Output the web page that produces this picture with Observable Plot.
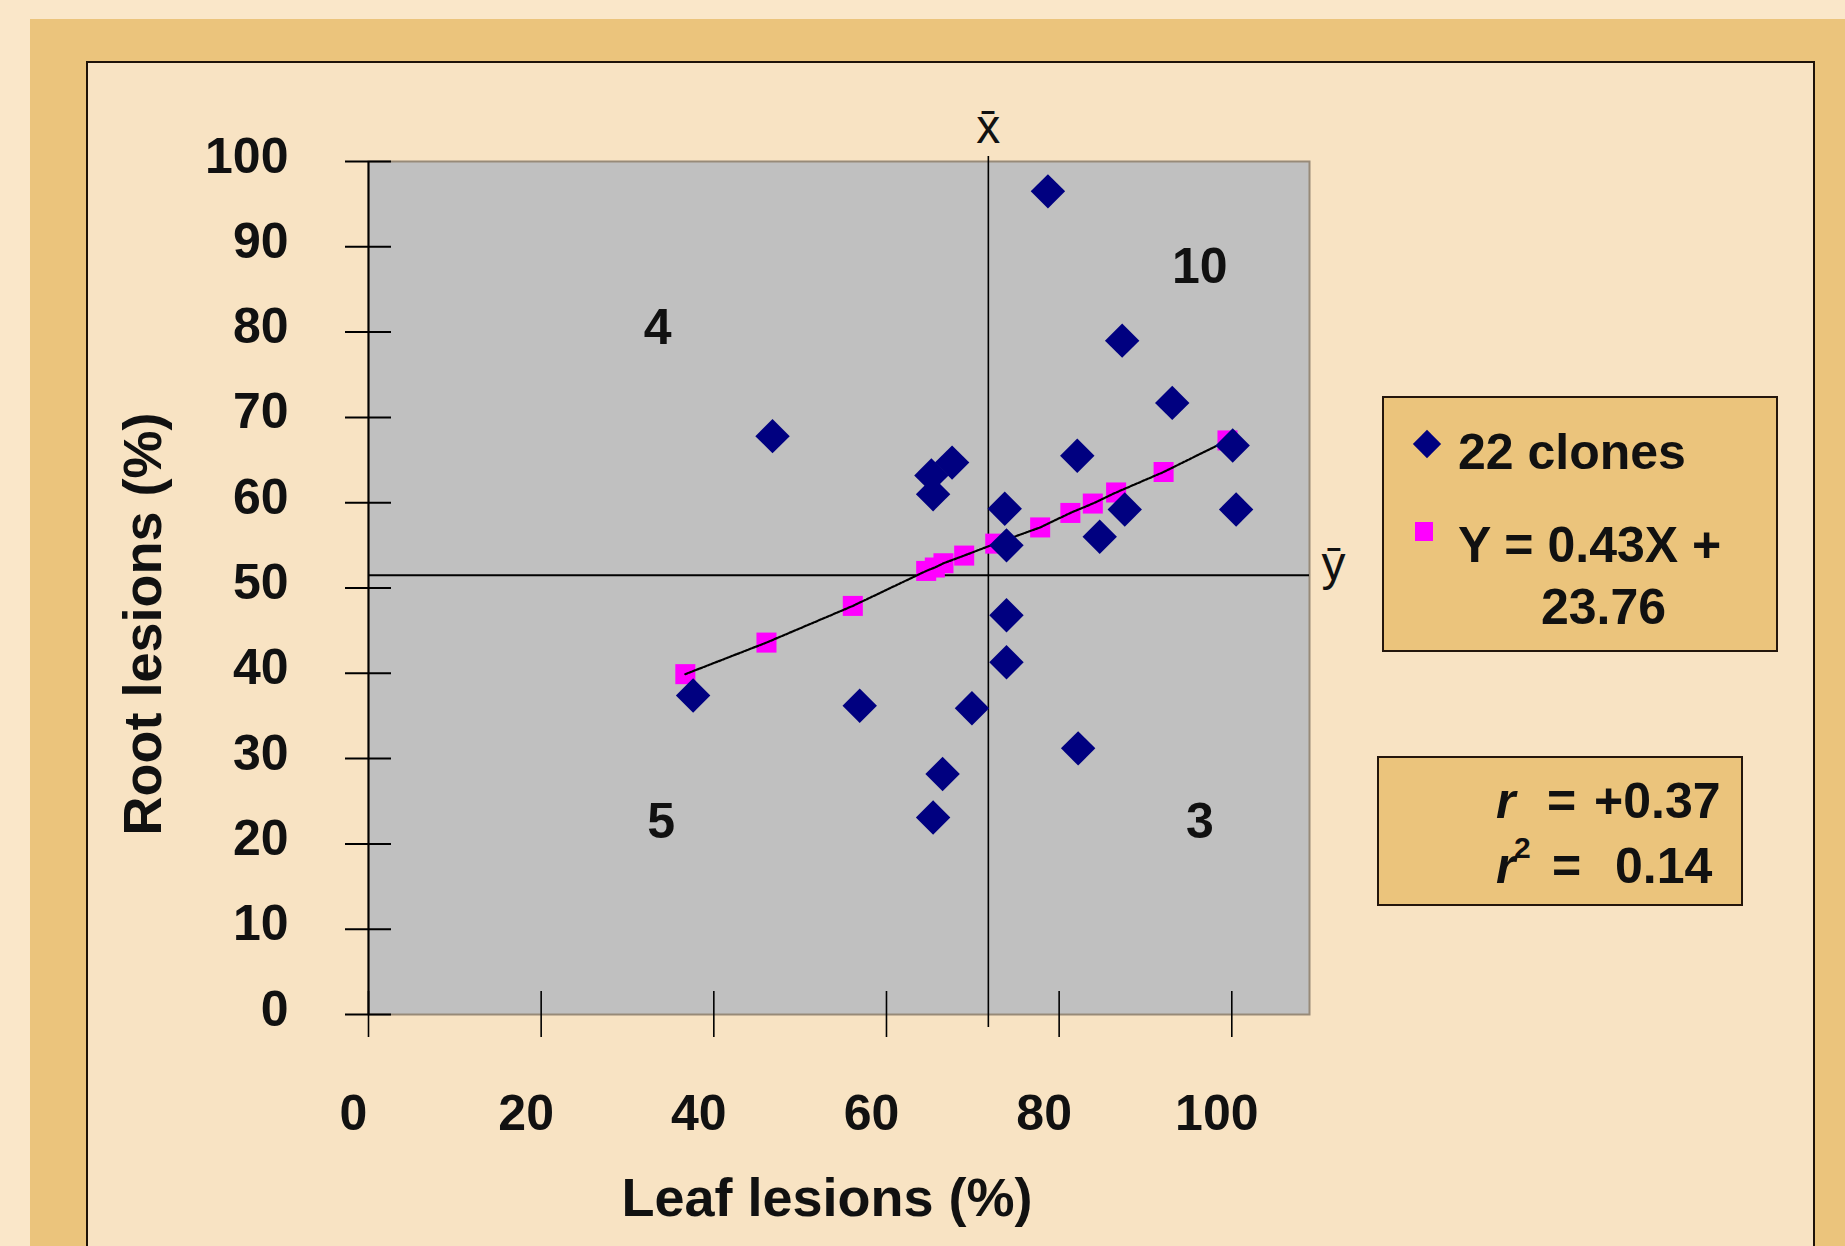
<!DOCTYPE html>
<html><head><meta charset="utf-8">
<script src="https://cdn.jsdelivr.net/npm/d3@7"></script>
<script src="https://cdn.jsdelivr.net/npm/@observablehq/plot@0.6"></script>
<style>
html,body{margin:0;padding:0;}
body{width:1845px;height:1246px;background:#FAE7C9;position:relative;overflow:hidden;font-family:"Liberation Sans",Arial,sans-serif;}
#band{position:absolute;left:30px;top:19px;width:1815px;height:1240px;background:#EBC47C;}
#panel{position:absolute;left:86px;top:61px;width:1729px;height:1200px;background:#F8E3C3;border:2px solid #1e1208;box-sizing:border-box;}
#chart{position:absolute;left:0;top:0;width:1400px;height:1246px;}
.box{position:absolute;background:#EBC47C;border:2px solid #24160c;box-sizing:border-box;}
.t{position:absolute;font-weight:bold;font-size:50px;line-height:50px;color:#111;white-space:pre;}
.dia{position:absolute;width:20px;height:20px;background:#000080;transform:rotate(45deg);}
.sq{position:absolute;width:18px;height:19px;background:#FF00FF;}
</style></head>
<body>
<div id="band"></div>
<div id="panel"></div>
<div id="chart"></div>
<div class="box" style="left:1382px;top:396px;width:396px;height:256px"></div>
<div class="dia" style="left:1417px;top:434px"></div>
<div class="t" style="left:1458px;top:427px">22 clones</div>
<div class="sq" style="left:1415px;top:522px"></div>
<div class="t" style="left:1458px;top:520px">Y = 0.43X +</div>
<div class="t" style="left:1541px;top:582px">23.76</div>
<div class="box" style="left:1377px;top:756px;width:366px;height:150px"></div>
<div class="t" style="left:1496px;top:776px;font-style:italic">r</div>
<div class="t" style="left:1547px;top:776px">=</div>
<div class="t" style="left:1594px;top:776px">+0.37</div>
<div class="t" style="left:1496px;top:841px;font-style:italic">r</div>
<div class="t" style="left:1514px;top:833px;font-size:30px;line-height:30px">2</div>
<div class="t" style="left:1552px;top:841px">=</div>
<div class="t" style="left:1615px;top:841px">0.14</div>
<script>
// 22 clones: leaf lesions (%) vs root lesions (%)
const leafLesions = [78.7, 87.3, 93.1, 46.8, 100.1, 82.1, 67.6, 65.2, 65.4, 73.7, 87.6, 100.5, 84.7, 73.9, 73.9, 73.9, 37.6, 56.9, 69.9, 82.2, 66.5, 65.4];
const rootLesions = [96.5, 79.0, 71.7, 67.8, 66.7, 65.5, 64.7, 63.2, 61.0, 59.3, 59.2, 59.2, 56.0, 55.0, 46.8, 41.3, 37.4, 36.2, 35.9, 31.2, 28.2, 23.1];
// fitted values (pink squares) Y = 0.43X + 23.76
const fitLeaf = [36.7, 46.1, 56.1, 64.6, 65.6, 66.6, 69.0, 72.6, 77.8, 81.3, 83.9, 86.6, 92.1, 99.5];
const fitRoot = [39.9, 43.6, 47.9, 52.0, 52.4, 52.9, 53.8, 55.2, 57.1, 58.8, 59.9, 61.2, 63.6, 67.3];
const xTicks = [0, 20, 40, 60, 80, 100];
const yTicks = [0, 10, 20, 30, 40, 50, 60, 70, 80, 90, 100];
const xMean = 71.8;
const yMean = 51.5;
const quadrantCounts = ["4", "10", "5", "3"];
const quadrantLeaf = [33.5, 96.3, 33.9, 96.3];
const quadrantRoot = [80.5, 87.6, 22.6, 22.6];
const xTitle = "Leaf lesions (%)";
const yTitle = "Root lesions (%)";

const clones = leafLesions.map((x, i) => ({leaf: x, root: rootLesions[i]}));
const fit = fitLeaf.map((x, i) => ({leaf: x, root: fitRoot[i]}));
const quads = quadrantCounts.map((t, i) => ({t, leaf: quadrantLeaf[i], root: quadrantRoot[i]}));

const W = 1400, H = 1246, mL = 368, mT = 161, mR = 91, mB = 232;
const plotW = W - mL - mR, plotH = H - mT - mB;
const bold = {fontWeight: "bold", fill: "#111"};

const chart = Plot.plot({
  width: W, height: H,
  marginLeft: mL, marginTop: mT, marginRight: mR, marginBottom: mB,
  style: {background: "transparent", overflow: "visible", fontFamily: "'Liberation Sans', Arial, sans-serif"},
  x: {domain: [0, 109], axis: null},
  y: {domain: [0, 100], axis: null},
  marks: [
    Plot.frame({fill: "#C0C0C0", stroke: "#978a78", strokeWidth: 2}),
    Plot.ruleY([yMean], {stroke: "#000", strokeWidth: 2}),
    Plot.ruleX([xMean], {stroke: "#000", strokeWidth: 1.6, insetTop: -5, insetBottom: -13}),
    Plot.ruleX([0], {stroke: "#000", strokeWidth: 2}),
    Plot.ruleY(yTicks, {stroke: "#000", strokeWidth: 2, insetLeft: -23, insetRight: plotW - 23}),
    Plot.ruleX(xTicks, {stroke: "#000", strokeWidth: 1.6, insetTop: plotH - 23, insetBottom: -23}),
    Plot.text(yTicks, {y: d => d, text: d => String(d), frameAnchor: "left", textAnchor: "end", dx: -80, dy: -5, fontSize: 50, ...bold}),
    Plot.text(xTicks, {x: d => d, text: d => String(d), frameAnchor: "bottom", dx: -15, dy: 115, fontSize: 50, ...bold}),
    Plot.dot(fit, {x: "leaf", y: "root", symbol: "square", r: 11.3, fill: "#FF00FF"}),
    Plot.line(fit, {x: "leaf", y: "root", stroke: "#000", strokeWidth: 2.2, strokeDasharray: "2.5,1.5"}),
    Plot.dot(clones, {x: "leaf", y: "root", symbol: "diamond2", r: 15.5, fill: "#000080"}),
    Plot.text(quads, {x: "leaf", y: "root", text: "t", fontSize: 50, ...bold}),
    Plot.text([xMean], {x: d => d, text: () => "x\u0304", frameAnchor: "top", lineAnchor: "bottom", dy: -19, fontSize: 48, fill: "#111"}),
    Plot.text([yMean], {y: d => d, text: () => "\u0233", frameAnchor: "right", textAnchor: "start", lineAnchor: "bottom", dx: 12, dy: 5, fontSize: 48, fill: "#111"}),
    Plot.text([yTitle], {text: d => d, frameAnchor: "left", textAnchor: "middle", rotate: -90, dx: -225, dy: 36, fontSize: 54, ...bold}),
    Plot.text([xTitle], {text: d => d, frameAnchor: "bottom", textAnchor: "middle", dx: -12, dy: 201, fontSize: 54, ...bold})
  ]
});
document.getElementById("chart").appendChild(chart);
</script>
</body></html>
